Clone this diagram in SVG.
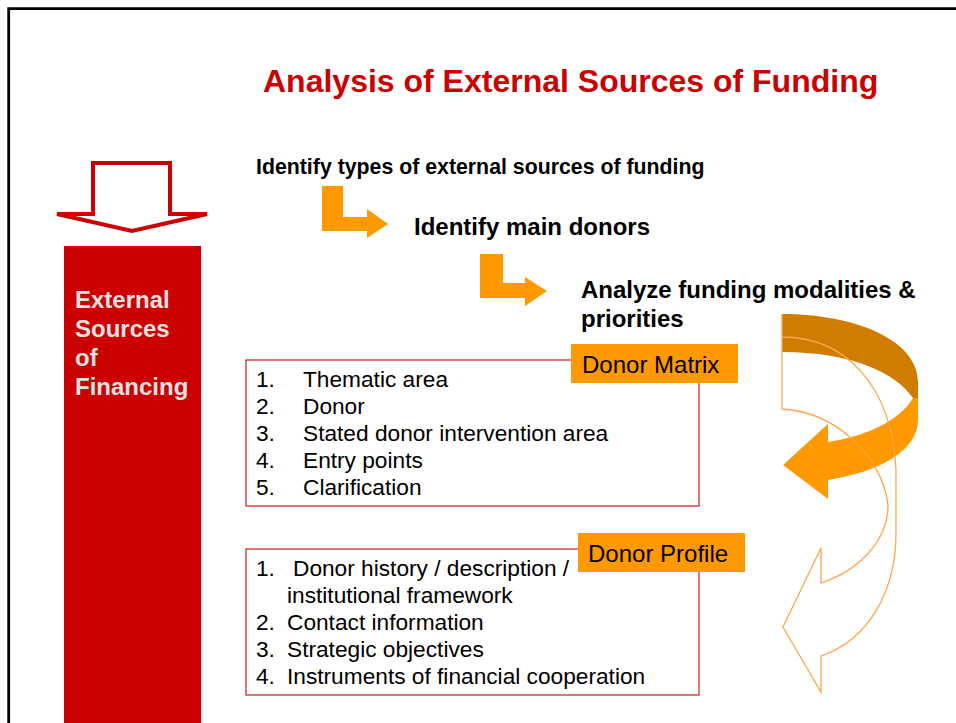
<svg xmlns="http://www.w3.org/2000/svg" width="956" height="723" viewBox="0 0 956 723">
<style>
.t{font-family:"Liberation Sans",Arial,sans-serif}
.b{font-weight:bold}
.li{font-size:22.7px;fill:#000}
.box{fill:#fff;stroke:#d42a2a;stroke-width:1.3}
.lab{fill:#ff9900}
.or{fill:#ff9900}
</style>
<rect width="956" height="723" fill="#fff"/>
<path d="M8.7,723 V8.7 H956" fill="none" stroke="#000" stroke-width="2.8"/>

<g id="title"><text class="t b" x="263" y="92" font-size="32" fill="#cc0000">Analysis of External Sources of Funding</text></g>

<g id="side">
<path d="M93,163 H170 V214 H207 L132,231 L57,214 H93 Z" fill="#fff" stroke="#cc0000" stroke-width="4" stroke-linejoin="miter"/>
<rect x="64" y="246" width="137" height="477" fill="#cc0000"/>
<text class="t b" font-size="24" fill="#e2e2e2"><tspan x="75" y="308">External</tspan><tspan x="75" y="337">Sources</tspan><tspan x="75" y="366">of</tspan><tspan x="75" y="395">Financing</tspan></text>
</g>

<g id="step1"><text class="t b" x="256" y="174" font-size="21.3">Identify types of external sources of funding</text></g>
<g id="step2"><text class="t b" x="414" y="235" font-size="24">Identify main donors</text></g>
<g id="step3"><text class="t b" font-size="24"><tspan x="581" y="298">Analyze funding modalities &amp;</tspan><tspan x="581" y="327">priorities</tspan></text></g>

<g id="connectors">
<path class="or" d="M322,186 H343 V217 H367 V209 L388,224 L367,238 V231 H322 Z"/>
<path class="or" d="M480,254 H503 V283 H525 V277 L547,291 L525,306 V298 H480 Z"/>
<path d="M782,314 C855,314 918,340 918,382 V398 H913 C895,372 850,352 782,352 Z" fill="#d07c00"/>
<path class="or" d="M913,398 H918 V420 C918,450 880,472 828,480 V499 L783,465 L828,424 V442 C868,436 900,420 913,398 Z"/>
<path d="M782,409 C835,412 882,455 888,505 C888,540 860,570 821,583 V548 L783,627 L821,692 V656 C868,640 896,592 896,533 V470 C892,385 845,337 782,337 M782,314 V409" fill="none" stroke="#ffa64d" stroke-width="1.3"/>
</g>

<g id="matrix">
<rect class="box" x="246" y="360" width="453" height="146"/>
<rect class="lab" x="571" y="344" width="167" height="39"/>
<text class="t" x="582" y="373" font-size="24">Donor Matrix</text>
<text class="t li"><tspan x="256" y="387">1.</tspan><tspan x="303" y="387">Thematic area</tspan><tspan x="256" y="414">2.</tspan><tspan x="303" y="414">Donor</tspan><tspan x="256" y="441">3.</tspan><tspan x="303" y="441">Stated donor intervention area</tspan><tspan x="256" y="468">4.</tspan><tspan x="303" y="468">Entry points</tspan><tspan x="256" y="495">5.</tspan><tspan x="303" y="495">Clarification</tspan></text>
</g>

<g id="profile">
<rect class="box" x="246" y="549" width="453" height="146"/>
<rect class="lab" x="578" y="533" width="167" height="39"/>
<text class="t" x="588" y="562" font-size="24">Donor Profile</text>
<text class="t li"><tspan x="256" y="576">1.</tspan><tspan x="293" y="576">Donor history / description /</tspan><tspan x="287" y="603">institutional framework</tspan><tspan x="256" y="630">2.</tspan><tspan x="287" y="630">Contact information</tspan><tspan x="256" y="657">3.</tspan><tspan x="287" y="657">Strategic objectives</tspan><tspan x="256" y="684">4.</tspan><tspan x="287" y="684">Instruments of financial cooperation</tspan></text>
</g>
</svg>
